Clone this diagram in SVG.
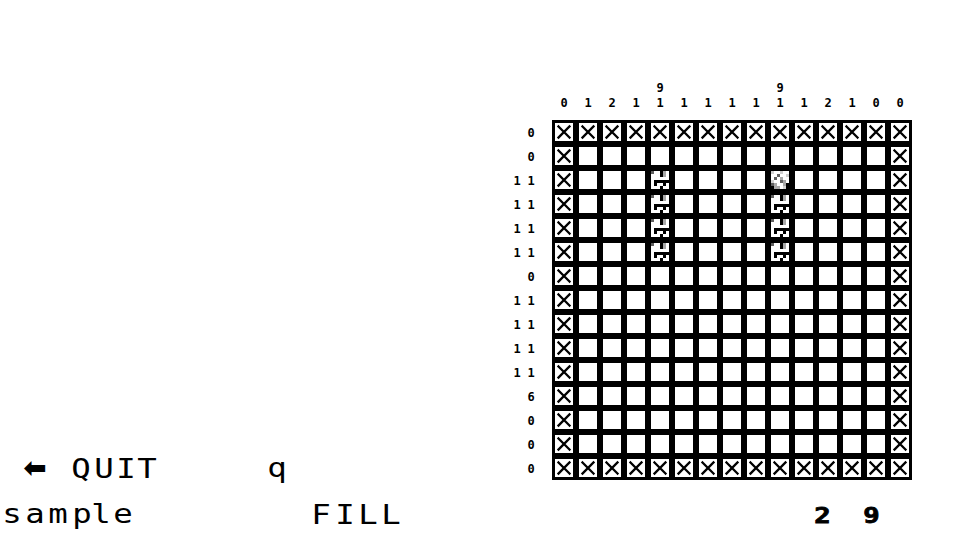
<svg xmlns="http://www.w3.org/2000/svg" xmlns:xlink="http://www.w3.org/1999/xlink" width="960" height="540" viewBox="0 0 960 540">
<style>
.clue{font-family:"DejaVu Sans Mono","Liberation Mono",monospace;font-weight:bold;font-size:12px;fill:#000;text-anchor:middle}
.big{font-family:"DejaVu Sans Mono","Liberation Mono",monospace;font-size:27px;fill:#000;text-anchor:middle}
.num{font-family:"DejaVu Sans Mono","Liberation Mono",monospace;font-weight:bold;font-size:21px;fill:#000;text-anchor:middle;stroke:#000;stroke-width:0.8}
.k{fill:#000}.w{fill:#fff}.g{fill:#a8a8a8}.d{fill:#606060}.l{fill:#d0d0d0}
</style>
<defs>
<g id="xcell">
<rect class="w" x="0" y="0" width="18" height="18"/>
<path d="M3.5 3.5L14.5 14.5M14.5 3.5L3.5 14.5" stroke="#000" stroke-width="2.3" stroke-linecap="square" fill="none"/>
</g>
<pattern id="pw" patternUnits="userSpaceOnUse" x="555" y="123" width="24" height="24">
<rect class="w" x="0" y="0" width="18" height="18"/>
</pattern>
<pattern id="px" patternUnits="userSpaceOnUse" x="555" y="123" width="24" height="24">
<use href="#xcell"/>
</pattern>
<g id="pcell" shape-rendering="crispEdges">
<rect class="w" x="0" y="0" width="18" height="18"/>
<rect class="d" x="0" y="0" width="3" height="3"/>
<rect class="k" x="9" y="0" width="3" height="6"/>
<rect class="g" x="12" y="0" width="3" height="6"/>
<rect class="k" x="3" y="9" width="15" height="3"/>
<rect class="k" x="3" y="12" width="3" height="3"/><rect class="k" x="12" y="12" width="3" height="3"/>
<rect class="k" x="9" y="15" width="3" height="3"/>
</g>
<g id="ccell" shape-rendering="crispEdges">
<rect class="w" x="0" y="0" width="18" height="18"/>
<rect class="l" x="0" y="0" width="3" height="3"/><rect class="l" x="9" y="0" width="3" height="3"/>
<rect class="d" x="6" y="3" width="3" height="3"/><rect class="l" x="15" y="3" width="3" height="3"/>
<rect class="d" x="3" y="6" width="3" height="3"/><rect class="g" x="9" y="6" width="3" height="3"/>
<rect class="l" x="0" y="9" width="3" height="3"/><rect class="d" x="9" y="9" width="3" height="3"/><rect class="g" x="12" y="9" width="3" height="3"/>
<rect class="d" x="0" y="12" width="3" height="3"/><rect class="g" x="3" y="12" width="3" height="3"/><rect class="g" x="12" y="12" width="3" height="3"/><rect class="k" x="15" y="12" width="3" height="6"/>
<rect class="k" x="0" y="15" width="3" height="3"/><rect class="g" x="3" y="15" width="6" height="3"/><rect class="l" x="12" y="15" width="3" height="3"/>
</g>
</defs>
<rect x="0" y="0" width="960" height="540" fill="#fff"/>

<g id="board">
<rect x="552" y="120" width="360" height="360" fill="#000"/>
<rect x="555" y="123" width="354" height="354" fill="url(#pw)"/>
<rect x="555" y="123" width="354" height="18" fill="url(#px)"/>
<rect x="555" y="459" width="354" height="18" fill="url(#px)"/>
<rect x="555" y="123" width="18" height="354" fill="url(#px)"/>
<rect x="891" y="123" width="18" height="354" fill="url(#px)"/>
<use href="#pcell" x="651" y="171"/>
<use href="#pcell" x="651" y="195"/>
<use href="#pcell" x="651" y="219"/>
<use href="#pcell" x="651" y="243"/>
<use href="#ccell" x="771" y="171"/>
<use href="#pcell" x="771" y="195"/>
<use href="#pcell" x="771" y="219"/>
<use href="#pcell" x="771" y="243"/>
</g>

<g id="column-clues">
<text class="clue" x="660" y="92">9</text>
<text class="clue" x="780" y="92">9</text>
<text class="clue" x="564" y="107">0</text>
<text class="clue" x="588" y="107">1</text>
<text class="clue" x="612" y="107">2</text>
<text class="clue" x="636" y="107">1</text>
<text class="clue" x="660" y="107">1</text>
<text class="clue" x="684" y="107">1</text>
<text class="clue" x="708" y="107">1</text>
<text class="clue" x="732" y="107">1</text>
<text class="clue" x="756" y="107">1</text>
<text class="clue" x="780" y="107">1</text>
<text class="clue" x="804" y="107">1</text>
<text class="clue" x="828" y="107">2</text>
<text class="clue" x="852" y="107">1</text>
<text class="clue" x="876" y="107">0</text>
<text class="clue" x="900" y="107">0</text>
</g>

<g id="row-clues">
<text class="clue" x="531" y="136.5">0</text>
<text class="clue" x="531" y="160.5">0</text>
<text class="clue" x="517 524 531" y="184.5">1 1</text>
<text class="clue" x="517 524 531" y="208.5">1 1</text>
<text class="clue" x="517 524 531" y="232.5">1 1</text>
<text class="clue" x="517 524 531" y="256.5">1 1</text>
<text class="clue" x="531" y="280.5">0</text>
<text class="clue" x="517 524 531" y="304.5">1 1</text>
<text class="clue" x="517 524 531" y="328.5">1 1</text>
<text class="clue" x="517 524 531" y="352.5">1 1</text>
<text class="clue" x="517 524 531" y="376.5">1 1</text>
<text class="clue" x="531" y="400.5">6</text>
<text class="clue" x="531" y="424.5">0</text>
<text class="clue" x="531" y="448.5">0</text>
<text class="clue" x="531" y="472.5">0</text>
</g>

<g id="footer">
<text x="35" y="477" font-family="DejaVu Sans, sans-serif" font-size="28" font-weight="bold" text-anchor="middle">⬅</text>
<g transform="scale(1.2,1)">
<text class="big" x="67.5 86.67 105 122.5" y="478">QUIT</text>
<text class="big" x="230.8" y="477">q</text>
<text class="big" x="10 29.17 48.33 68.33 84.17 102.5" y="523">sample</text>
<text class="big" x="267.5 287.5 306.67 325.83" y="524">FILL</text>
</g>
<g transform="scale(1.3,1)">
<text class="num" x="632.7 651.5 670.4" y="523">2 9</text>
</g>
</g>
</svg>
